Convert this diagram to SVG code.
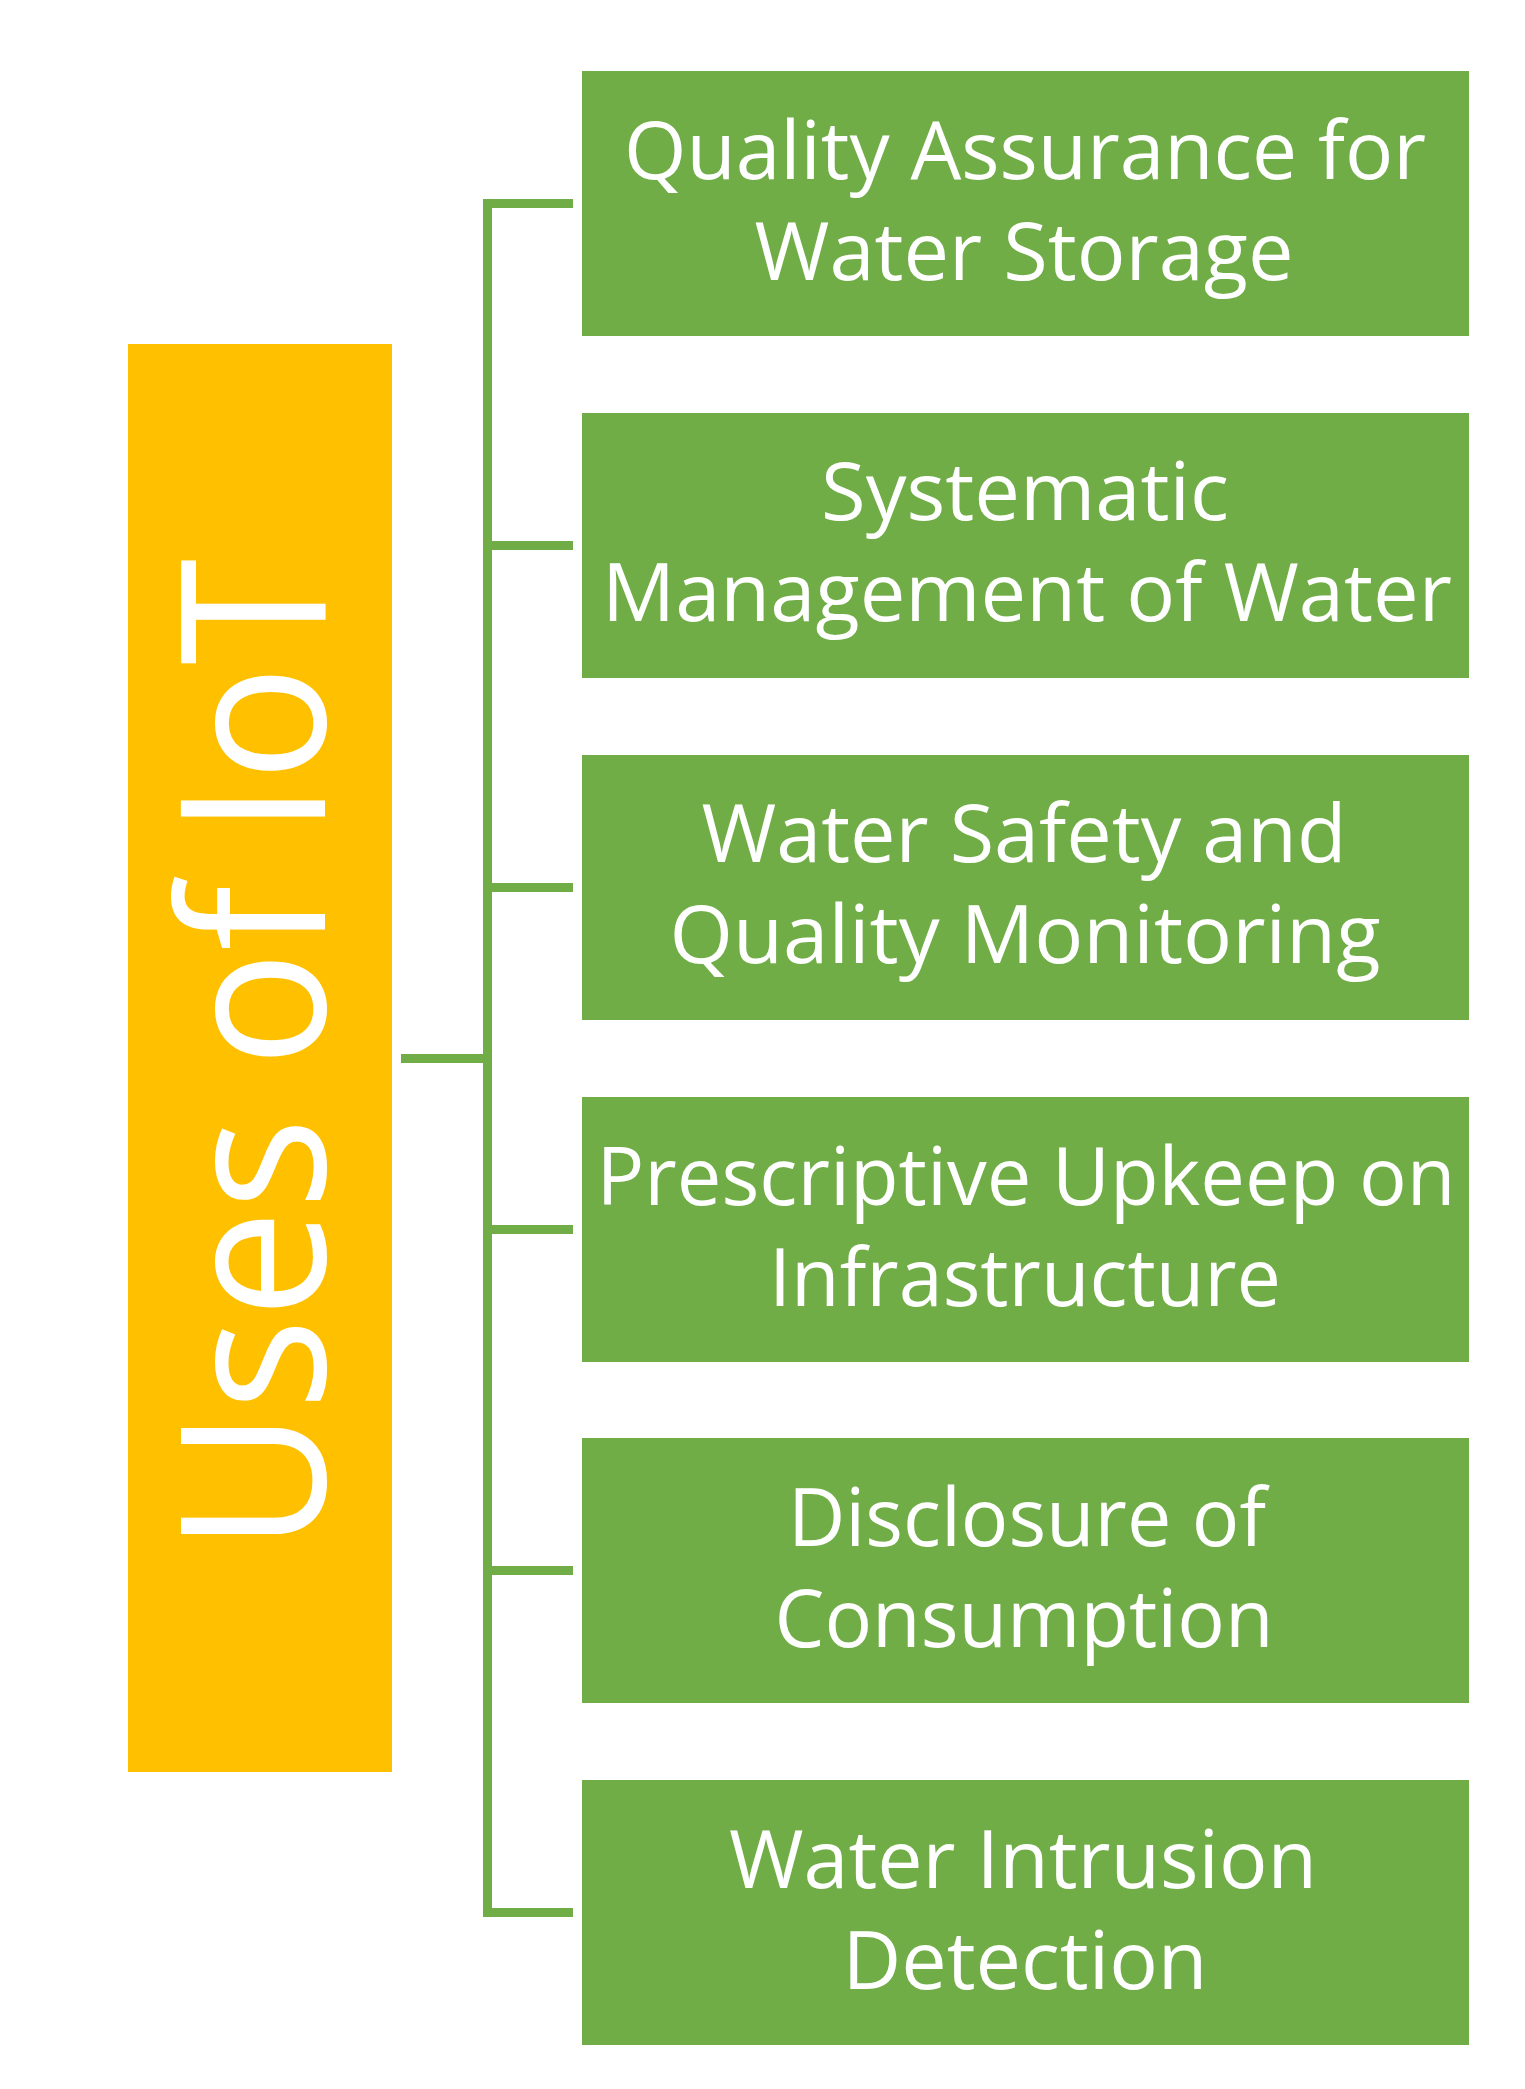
<svg xmlns="http://www.w3.org/2000/svg" width="1525" height="2089" viewBox="0 0 1525 2089">
<style>
.box{fill:#70AD47}
.t{fill:#FFFFFF;font-family:"Open Sans","Noto Sans","Liberation Sans",sans-serif;font-size:81px;text-anchor:middle}
.big{fill:#FFFFFF;font-family:"Open Sans","Noto Sans","Liberation Sans",sans-serif;font-size:202px;text-anchor:middle}
.c{fill:none;stroke:#70AD47;stroke-width:9;stroke-linejoin:miter;stroke-linecap:butt}
</style>
<rect width="1525" height="2089" fill="#FFFFFF"/>
<g id="connectors">
<path class="c" d="M573,203.5 H487.5 V1912.5 H573"/>
<path class="c" d="M401,1058.5 H487.5"/>
<path class="c" d="M487.5,545.5 H573"/>
<path class="c" d="M487.5,887.5 H573"/>
<path class="c" d="M487.5,1229.5 H573"/>
<path class="c" d="M487.5,1570.5 H573"/>
</g>
<g id="root">
<rect x="128" y="344" width="264" height="1428" fill="#FFC000"/>
<text class="big" transform="translate(325,1055) rotate(-90)" x="0" y="0" textLength="993" lengthAdjust="spacingAndGlyphs">Uses of IoT</text>
</g>
<g id="n1">
<rect class="box" x="582" y="71" width="887" height="265"/>
<text class="t" x="1025" y="179" textLength="802" lengthAdjust="spacingAndGlyphs">Quality Assurance for</text>
<text class="t" x="1024" y="280" textLength="539" lengthAdjust="spacingAndGlyphs">Water Storage</text>
</g>
<g id="n2">
<rect class="box" x="582" y="413" width="887" height="265"/>
<text class="t" x="1025" y="520" textLength="408" lengthAdjust="spacingAndGlyphs">Systematic</text>
<text class="t" x="1027" y="621" textLength="850" lengthAdjust="spacingAndGlyphs">Management of Water</text>
</g>
<g id="n3">
<rect class="box" x="582" y="755" width="887" height="265"/>
<text class="t" x="1024" y="862" textLength="645" lengthAdjust="spacingAndGlyphs">Water Safety and</text>
<text class="t" x="1025" y="963" textLength="711" lengthAdjust="spacingAndGlyphs">Quality Monitoring</text>
</g>
<g id="n4">
<rect class="box" x="582" y="1097" width="887" height="265"/>
<text class="t" x="1026" y="1205" textLength="859" lengthAdjust="spacingAndGlyphs">Prescriptive Upkeep on</text>
<text class="t" x="1025" y="1306" textLength="512" lengthAdjust="spacingAndGlyphs">Infrastructure</text>
</g>
<g id="n5">
<rect class="box" x="582" y="1438" width="887" height="265"/>
<text class="t" x="1027" y="1546" textLength="478" lengthAdjust="spacingAndGlyphs">Disclosure of</text>
<text class="t" x="1024" y="1647" textLength="499" lengthAdjust="spacingAndGlyphs">Consumption</text>
</g>
<g id="n6">
<rect class="box" x="582" y="1780" width="887" height="265"/>
<text class="t" x="1023" y="1888" textLength="588" lengthAdjust="spacingAndGlyphs">Water Intrusion</text>
<text class="t" x="1025" y="1989" textLength="365" lengthAdjust="spacingAndGlyphs">Detection</text>
</g>
</svg>
